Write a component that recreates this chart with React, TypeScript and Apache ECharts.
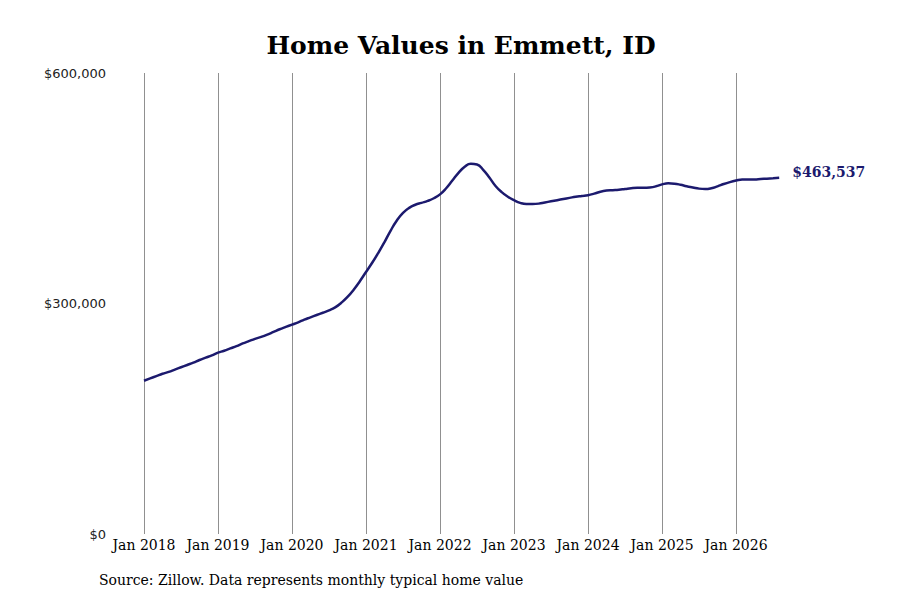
import React, { useEffect, useRef } from "react";
import * as echarts from "echarts";

const startYear = 2018;
const TITLE = "Home Values in Emmett, ID";
const SOURCE = "Source: Zillow. Data represents monthly typical home value";

// Monthly typical home values (USD)
const values2018 = [199500, 202500, 205500, 208500, 211000, 214000, 217000, 220000, 223000, 226500, 229500, 232500];
const values2019 = [236000, 238500, 241500, 244500, 248000, 251000, 254000, 256500, 259500, 263000, 266500, 269500];
const values2020 = [272500, 275500, 279000, 282000, 285000, 288000, 291000, 295000, 301000, 308500, 318000, 329000];
const values2021 = [341000, 353000, 366000, 380000, 395000, 408000, 418000, 424500, 428500, 431000, 433500, 437000];
const values2022 = [442000, 450000, 460000, 470000, 478000, 482000, 481000, 474000, 464000, 453000, 445000, 439000];
const values2023 = [434500, 431000, 429500, 429500, 430000, 431500, 433000, 434500, 436000, 437500, 439000, 440000];
const values2024 = [441000, 443000, 445500, 447000, 447500, 448000, 449000, 450000, 450500, 450500, 451000, 452500];
const values2025 = [455000, 456500, 456000, 454500, 452500, 451000, 449500, 449000, 450000, 452500, 455500, 458000];
const values2026 = [460000, 461500, 461500, 461500, 462000, 462500, 463000, 463537];

const yTicks = [0, 300000, 600000];

const values = [
  ...values2018, ...values2019, ...values2020, ...values2021, ...values2022,
  ...values2023, ...values2024, ...values2025, ...values2026,
];
const monthNames = ["Jan", "Feb", "Mar", "Apr", "May", "Jun", "Jul", "Aug", "Sep", "Oct", "Nov", "Dec"];
const categories = values.map((_, i) => `${monthNames[i % 12]} ${startYear + Math.floor(i / 12)}`);

const LINE_COLOR = "#1c1a6e";
const SERIF = '"DejaVu Serif", serif';

export default function App() {
  const ref = useRef<HTMLDivElement>(null);
  useEffect(() => {
    if (!ref.current) return;
    const chart = echarts.init(ref.current, undefined, { renderer: "svg" });
    chart.setOption({
      animation: false,
      backgroundColor: "#ffffff",
      title: {
        text: TITLE,
        left: 456,
        top: 28,
        textAlign: "center",
        textStyle: { fontFamily: SERIF, fontWeight: "bold", fontSize: 25, color: "#000" },
      },
      graphic: [
        {
          type: "text",
          left: 99,
          top: 573,
          style: { text: SOURCE, font: `14px ${SERIF}`, fill: "#000" },
        },
      ],
      grid: { left: 144, right: 120.8, top: 73, bottom: 66, containLabel: false },
      xAxis: {
        type: "category",
        data: categories,
        boundaryGap: false,
        axisLine: { show: false },
        axisTick: { show: false },
        axisLabel: {
          interval: (i: number) => i % 12 === 0,
          fontFamily: SERIF,
          fontSize: 14,
          color: "#000",
          margin: 4,
        },
        splitLine: {
          show: true,
          interval: (i: number) => i % 12 === 0,
          lineStyle: { color: "#909090", width: 1 },
        },
      },
      yAxis: {
        type: "value",
        min: yTicks[0],
        max: yTicks[yTicks.length - 1],
        interval: yTicks[1] - yTicks[0],
        axisLine: { show: false },
        axisTick: { show: false },
        splitLine: { show: false },
        axisLabel: {
          margin: 38,
          fontFamily: '"DejaVu Sans", sans-serif',
          fontSize: 13,
          color: "#222",
          formatter: (v: number) => "$" + v.toLocaleString("en-US"),
        },
      },
      series: [
        {
          type: "line",
          data: values,
          smooth: 0.5,
          symbol: "none",
          lineStyle: { color: LINE_COLOR, width: 2.5 },
          itemStyle: { color: LINE_COLOR },
          endLabel: {
            show: true,
            distance: 13,
            offset: [0, -6],
            formatter: (p: any) => "$" + Math.round(p.value).toLocaleString("en-US"),
            fontFamily: SERIF,
            fontWeight: "bold",
            fontSize: 14,
            color: LINE_COLOR,
          },
        },
      ],
    });
    return () => chart.dispose();
  }, []);
  return (
    <div
      ref={ref}
      style={{ position: "absolute", left: 0, top: 0, width: 900, height: 600, background: "#fff" }}
    />
  );
}
